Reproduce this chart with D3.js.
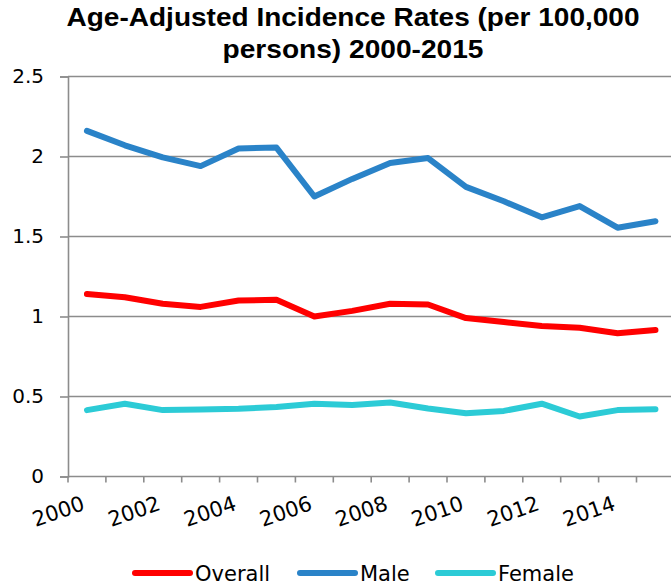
<!DOCTYPE html>
<html>
<head>
<meta charset="utf-8">
<script src="https://cdn.jsdelivr.net/npm/d3@7"></script>
<style>
  html, body { margin: 0; padding: 0; background: #fff; }
  svg { display: block; }
</style>
</head>
<body>
<svg id="chart" width="671" height="585"></svg>
<script>
// Age-adjusted incidence rates per 100,000 persons, 2000-2015
const years = [2000, 2001, 2002, 2003, 2004, 2005, 2006, 2007,
               2008, 2009, 2010, 2011, 2012, 2013, 2014, 2015];
const overall = [1.14, 1.12, 1.08, 1.06, 1.10, 1.105, 1.00, 1.035,
                 1.08, 1.075, 0.99, 0.965, 0.94, 0.93, 0.895, 0.915];
const male = [2.16, 2.07, 1.995, 1.94, 2.05, 2.056, 1.75, 1.86,
              1.96, 1.99, 1.81, 1.72, 1.62, 1.69, 1.555, 1.595];
const female = [0.415, 0.455, 0.415, 0.418, 0.423, 0.435, 0.455, 0.447,
                0.462, 0.425, 0.395, 0.41, 0.455, 0.375, 0.415, 0.42];
const seriesNames = ["Overall", "Male", "Female"];
const seriesColors = ["#ff0000", "#2a83c8", "#2ccbd6"];
const yTicks = [0, 0.5, 1, 1.5, 2, 2.5];
const yTickLabels = ["0", "0.5", "1", "1.5", "2", "2.5"];
const xLabelYears = [2000, 2002, 2004, 2006, 2008, 2010, 2012, 2014];
const titleLines = ["Age-Adjusted Incidence Rates (per 100,000", "persons) 2000-2015"];

const svg = d3.select("#chart");
const plotLeft = 68, plotTop = 76.5, plotBottom = 476.5, bandW = 37.9;
const plotRight = 671;
const tickFont = "'DejaVu Sans', sans-serif";

const x = d3.scaleBand().domain(years).range([plotLeft, plotLeft + bandW * years.length]).padding(0);
const y = d3.scaleLinear().domain([0, 2.5]).range([plotBottom, plotTop]);
const cx = d => x(d) + x.bandwidth() / 2;

// Title (two centred lines)
const titleWidths = [573, 261];
svg.append("g").selectAll("text").data(titleLines).join("text")
  .attr("x", 353).attr("y", (d, i) => 26 + i * 32)
  .attr("text-anchor", "middle")
  .attr("textLength", (d, i) => titleWidths[i])
  .attr("lengthAdjust", "spacingAndGlyphs")
  .style("font-family", "'Liberation Sans', Arial, sans-serif")
  .style("font-weight", "bold").style("font-size", "26px")
  .attr("fill", "#000").text(d => d);

// Horizontal gridlines
svg.append("g").selectAll("line").data(yTicks.filter(v => v > 0)).join("line")
  .attr("x1", plotLeft).attr("x2", plotRight)
  .attr("y1", d => y(d)).attr("y2", d => y(d))
  .attr("stroke", "#8c8c8c").attr("stroke-width", 1.6);

// Y axis
const yAxis = d3.axisLeft(y).tickValues(yTicks)
  .tickFormat((d, i) => yTickLabels[i]).tickSize(8).tickPadding(16);
const gy = svg.append("g").attr("transform", `translate(${plotLeft},0)`).call(yAxis);
gy.select(".domain").attr("stroke", "#8c8c8c").attr("stroke-width", 1.6);
gy.selectAll(".tick line").attr("stroke", "#8c8c8c").attr("stroke-width", 1.6);
gy.selectAll(".tick text").style("font-family", tickFont).style("font-size", "20px")
  .attr("fill", "#000");

// X axis: ticks at band boundaries, labels every other year
const gx = svg.append("g").attr("transform", `translate(0,${plotBottom})`);
gx.append("line").attr("x1", plotLeft).attr("x2", plotRight).attr("y1", 0).attr("y2", 0)
  .attr("stroke", "#8c8c8c").attr("stroke-width", 1.6);
gx.selectAll("line.tk").data(years).join("line").attr("class", "tk")
  .attr("x1", d => x(d)).attr("x2", d => x(d)).attr("y1", 0).attr("y2", 6)
  .attr("stroke", "#8c8c8c").attr("stroke-width", 1.6);
gx.selectAll("text.lab").data(xLabelYears).join("text").attr("class", "lab")
  .attr("transform", d => `translate(${cx(d) - 1},${33}) rotate(-19)`)
  .attr("text-anchor", "end")
  .style("font-family", tickFont).style("font-size", "21px")
  .attr("fill", "#000").text(d => d);

// Series lines
const seriesData = [overall, male, female];
const line = d3.line().x((d, i) => cx(years[i])).y(d => y(d));
svg.append("g").selectAll("path").data(seriesData).join("path")
  .attr("d", d => line(d))
  .attr("fill", "none")
  .attr("stroke", (d, i) => seriesColors[i])
  .attr("stroke-width", 6)
  .attr("stroke-linecap", "round")
  .attr("stroke-linejoin", "round");

// Legend
const legendX = [135, 300, 438];
const lg = svg.append("g").selectAll("g").data(seriesNames).join("g")
  .attr("transform", (d, i) => `translate(${legendX[i]},573)`);
lg.append("line").attr("x1", 0).attr("x2", 55).attr("y1", 0).attr("y2", 0)
  .attr("stroke", (d, i) => seriesColors[i]).attr("stroke-width", 6)
  .attr("stroke-linecap", "round");
lg.append("text").attr("x", 60).attr("y", 7.5)
  .style("font-family", tickFont).style("font-size", "21px")
  .attr("fill", "#000").text(d => d);
</script>
</body>
</html>
